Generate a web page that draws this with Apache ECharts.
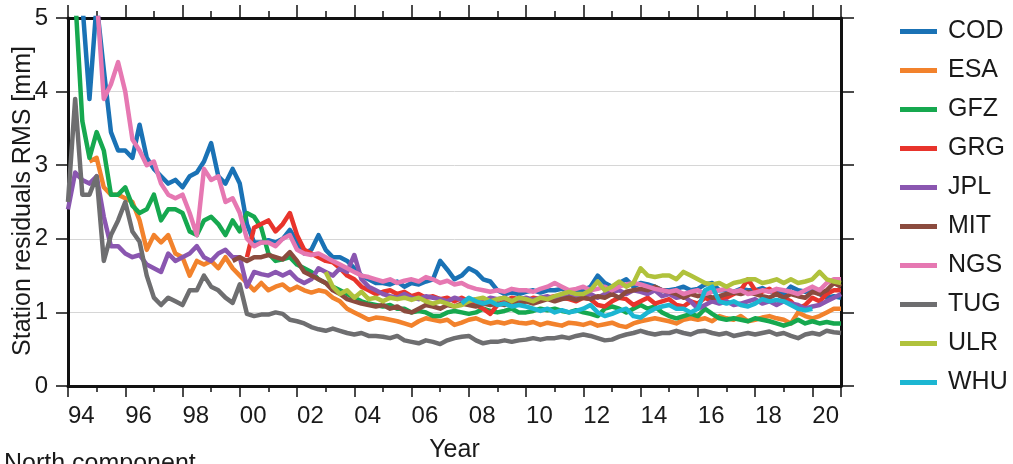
<!DOCTYPE html>
<html>
<head>
<meta charset="utf-8">
<script src="https://cdn.jsdelivr.net/npm/echarts@6/dist/echarts.min.js"></script>
<style>
html,body{margin:0;padding:0;background:#fff;}
#chart{width:1013px;height:464px;}
</style>
</head>
<body>
<div id="chart"></div>
<script>
// Quarterly samples (step 0.25 yr) starting at each series' start year
const seriesNames = ['COD','ESA','GFZ','GRG','JPL','MIT','NGS','TUG','ULR','WHU'];
const startYears = {COD:1994.0, ESA:1994.75, GFZ:1994.0, GRG:2000.25, JPL:1994.0, MIT:1999.75, NGS:1995.0, TUG:1994.0, ULR:2003.0, WHU:2007.75};
const sampleStep = 0.25;

const COD = [5.6,5.4,5.2,3.9, 5.2,4.3,3.45,3.2, 3.2,3.1,3.55,3.1, 2.95,2.85,2.75,2.8,
  2.7,2.85,2.9,3.05, 3.3,2.85,2.75,2.95, 2.75,2.2,1.95,1.95, 1.98,1.95,2.0,2.12,
  1.95,1.8,1.85,2.05, 1.85,1.75,1.75,1.7, 1.6,1.5,1.45,1.4, 1.4,1.38,1.42,1.35,
  1.4,1.38,1.42,1.45, 1.7,1.58,1.45,1.5, 1.6,1.55,1.45,1.42, 1.3,1.25,1.27,1.25,
  1.28,1.3,1.27,1.3, 1.3,1.32,1.28,1.3, 1.3,1.35,1.5,1.4, 1.35,1.4,1.45,1.35,
  1.4,1.38,1.35,1.3, 1.3,1.32,1.35,1.3, 1.32,1.38,1.4,1.3, 1.3,1.28,1.32,1.3,
  1.3,1.33,1.28,1.3, 1.25,1.35,1.3,1.28, 1.3,1.25,1.2,1.22, 1.2];
const ESA = [3.05, 3.1,2.7,2.6,2.6, 2.55,2.5,2.25,1.85, 2.05,1.95,2.05,1.8,
  1.75,1.5,1.7,1.65, 1.7,1.6,1.75,1.6, 1.5,1.4,1.3,1.4, 1.3,1.35,1.38,1.3,
  1.35,1.3,1.27,1.3, 1.28,1.2,1.15,1.05, 1.0,0.95,0.9,0.93, 0.92,0.9,0.88,0.85,
  0.82,0.88,0.92,0.9, 0.88,0.9,0.83,0.86, 0.9,0.92,0.88,0.85, 0.87,0.85,0.88,0.86,
  0.85,0.87,0.83,0.86, 0.84,0.82,0.86,0.85, 0.83,0.86,0.82,0.84, 0.86,0.82,0.8,0.85,
  0.88,0.9,0.92,0.9, 0.88,0.85,0.9,0.92, 0.9,0.92,0.88,0.95, 0.92,0.9,0.95,0.88,
  0.9,0.93,0.95,0.92, 0.9,0.85,1.0,0.95, 0.92,0.95,1.0,1.05, 1.05];
const GFZ = [5.5,5.3,3.6,3.1, 3.45,3.2,2.6,2.6, 2.7,2.45,2.35,2.4, 2.6,2.25,2.4,2.4,
  2.35,2.1,2.05,2.25, 2.3,2.2,2.05,2.25, 2.1,2.35,2.3,2.15, 1.8,1.7,1.72,1.75,
  1.65,1.6,1.55,1.45, 1.4,1.35,1.3,1.25, 1.2,1.15,1.12,1.1, 1.08,1.1,1.05,1.05,
  1.0,1.02,1.0,0.95, 0.95,1.0,1.02,1.0, 0.98,1.0,1.05,1.02, 1.0,1.02,1.05,1.0,
  1.0,1.02,1.05,1.03, 1.05,1.02,1.0,1.03, 1.0,0.98,0.95,1.05, 1.08,1.05,1.0,1.05,
  1.1,1.05,1.08,1.0, 0.95,0.92,0.95,0.98, 0.95,1.05,0.98,0.92, 0.9,0.92,0.9,0.88,
  0.92,0.9,0.88,0.85, 0.82,0.85,0.9,0.85, 0.88,0.85,0.87,0.85, 0.85];
const GRG = [1.75,2.15,2.2, 2.25,2.1,2.2,2.35, 2.05,1.85,1.8,1.75, 1.7,1.68,1.6,1.5,
  1.45,1.35,1.3,1.25, 1.28,1.3,1.25,1.28, 1.22,1.25,1.2,1.22, 1.18,1.2,1.15,1.2,
  1.15,1.1,1.05,0.98, 1.1,1.15,1.2,1.18, 1.15,1.2,1.18,1.2, 1.22,1.2,1.18,1.15,
  1.2,1.18,1.1,1.08, 1.15,1.2,1.18,1.1, 1.15,1.2,1.12,1.15, 1.18,1.1,1.08,1.15,
  1.12,1.2,1.15,1.18, 1.2,1.25,1.3,1.45, 1.3,1.28,1.32,1.25, 1.2,1.15,1.05,1.1,
  1.2,1.15,1.25,1.3, 1.3];
const JPL = [2.4,2.9,2.8,2.75, 2.85,2.3,1.9,1.9, 1.8,1.75,1.78,1.65, 1.6,1.55,1.8,1.7,
  1.75,1.8,1.9,1.75, 1.7,1.8,1.85,1.75, 1.75,1.35,1.55,1.52, 1.5,1.55,1.5,1.55,
  1.45,1.4,1.45,1.6, 1.55,1.5,1.6,1.55, 1.78,1.45,1.35,1.3, 1.25,1.22,1.2,1.25,
  1.2,1.18,1.22,1.2, 1.18,1.15,1.2,1.17, 1.15,1.18,1.15,1.2, 1.18,1.2,1.15,1.18,
  1.2,1.17,1.2,1.22, 1.18,1.2,1.22,1.2, 1.22,1.25,1.2,1.25, 1.28,1.3,1.25,1.3,
  1.28,1.25,1.3,1.22, 1.25,1.2,1.22,1.15, 1.05,1.1,1.15,1.12, 1.15,1.1,1.12,1.15,
  1.18,1.12,1.15,1.1, 1.15,1.12,1.1,1.05, 1.08,1.1,1.15,1.2, 1.25];
const MIT = [1.7, 1.75,1.7,1.75,1.75, 1.78,1.75,1.72,1.82, 1.7,1.55,1.5,1.45,
  1.4,1.3,1.25,1.18, 1.15,1.12,1.1,1.08, 1.1,1.05,1.08,1.02, 1.0,1.05,1.1,1.08,
  1.05,1.1,1.08,1.12, 1.1,1.08,1.12,1.1, 1.12,1.1,1.15,1.12, 1.15,1.12,1.15,1.18,
  1.15,1.18,1.2,1.17, 1.2,1.18,1.22,1.2, 1.25,1.2,1.28,1.3, 1.32,1.3,1.35,1.3,
  1.28,1.25,1.2,1.25, 1.22,1.25,1.2,1.22, 1.25,1.27,1.25,1.28, 1.25,1.22,1.2,1.25,
  1.2,1.25,1.22,1.2, 1.28,1.25,1.3,1.4, 1.35];
const NGS = [5.3,3.9,4.1,4.4, 4.0,3.35,3.2,3.0, 3.05,2.75,2.6,2.55, 2.6,2.35,2.05,2.95,
  2.8,2.85,2.5,2.55, 2.35,2.0,1.9,1.95, 1.95,1.9,2.0,2.05, 1.85,1.8,1.78,1.8,
  1.75,1.7,1.65,1.6, 1.55,1.5,1.48,1.45, 1.42,1.45,1.4,1.43, 1.45,1.42,1.48,1.45,
  1.4,1.43,1.38,1.4, 1.35,1.32,1.3,1.28, 1.3,1.28,1.32,1.3, 1.3,1.28,1.32,1.35,
  1.4,1.35,1.3,1.32, 1.35,1.3,1.32,1.35, 1.3,1.35,1.38,1.4, 1.38,1.35,1.32,1.3,
  1.28,1.3,1.25,1.28, 1.3,1.25,1.28,1.3, 1.32,1.28,1.3,1.25, 1.27,1.3,1.28,1.32,
  1.3,1.28,1.25,1.3, 1.35,1.3,1.4,1.45, 1.45];
const TUG = [2.5,3.9,2.6,2.6, 2.85,1.7,2.05,2.25, 2.5,2.1,1.96,1.5, 1.2,1.1,1.2,1.15,
  1.1,1.3,1.3,1.5, 1.35,1.3,1.2,1.13, 1.38,0.98,0.95,0.97, 0.97,1.0,0.98,0.9,
  0.88,0.85,0.8,0.77, 0.75,0.78,0.75,0.72, 0.7,0.72,0.68,0.68, 0.67,0.65,0.68,0.62,
  0.6,0.58,0.62,0.6, 0.57,0.62,0.65,0.67, 0.68,0.62,0.58,0.6, 0.6,0.62,0.6,0.62,
  0.63,0.65,0.63,0.65, 0.65,0.67,0.65,0.68, 0.7,0.68,0.65,0.62, 0.63,0.67,0.7,0.72,
  0.75,0.72,0.7,0.72, 0.72,0.75,0.72,0.7, 0.74,0.75,0.72,0.7, 0.72,0.68,0.7,0.72,
  0.7,0.72,0.74,0.7, 0.72,0.68,0.65,0.7, 0.72,0.7,0.75,0.73, 0.72];
const ULR = [1.55,1.35,1.25,1.3, 1.2,1.28,1.18,1.2, 1.15,1.2,1.18,1.2, 1.17,1.2,1.15,1.12,
  1.15,1.12,1.08,1.1, 1.15,1.18,1.2,1.15, 1.18,1.2,1.15,1.2, 1.18,1.15,1.2,1.18,
  1.22,1.25,1.28,1.25, 1.25,1.3,1.42,1.3, 1.35,1.42,1.35,1.4, 1.6,1.5,1.48,1.5,
  1.5,1.45,1.55,1.5, 1.45,1.4,1.38,1.4, 1.35,1.4,1.42,1.45, 1.45,1.4,1.42,1.45,
  1.4,1.45,1.4,1.42, 1.45,1.55,1.45,1.42, 1.4];
const WHU = [1.12, 1.2,1.15,1.12,1.15, 1.1,1.12,1.08,1.1, 1.08,1.05,1.02,1.05,
  1.0,1.03,1.0,1.02, 1.05,1.1,1.0,0.95, 0.98,1.02,1.05,0.95, 0.93,1.0,1.05,1.08,
  1.1,1.05,1.05,1.0, 1.05,1.3,1.35,1.15, 1.12,1.15,1.1,1.08, 1.12,1.18,1.15,1.17,
  1.15,1.1,1.05,1.03, 1.05];

const seriesValues = {COD, ESA, GFZ, GRG, JPL, MIT, NGS, TUG, ULR, WHU};
const colors = {COD:'#1a72b5', ESA:'#f2822c', GFZ:'#16a84f', GRG:'#e8342c', JPL:'#8a56b0',
  MIT:'#8b4b3e', NGS:'#e678b2', TUG:'#6e6e70', ULR:'#b0c23c', WHU:'#1cb6d2'};

const xTickStart = 1994, xTickEnd = 2021, xInterval = 2;
const yTickMin = 0, yTickMax = 5, yInterval = 1;
const yAxisTitle = 'Station residuals RMS [mm]';

const FONT = '"Liberation Sans", Arial, Helvetica, sans-serif';
const chart = echarts.init(document.getElementById('chart'), null, {renderer: 'canvas'});

const series = seriesNames.map(n => ({
  name: n,
  type: 'line',
  showSymbol: false,
  symbol: 'none',
  clip: true,
  color: colors[n],
  lineStyle: {width: 4.5, color: colors[n], join: 'round'},
  data: seriesValues[n].map((v, i) => [startYears[n] + i * sampleStep, v])
}));

const xLabel = v => (v % 2 === 0 && v < xTickEnd) ? String(v % 100).padStart(2, '0') : '';
const frameLine = {show: true, onZero: false, lineStyle: {color: '#111', width: 3}};

chart.setOption({
  animation: false,
  backgroundColor: '#fff',
  textStyle: {fontFamily: FONT},
  grid: {left: 68, right: 172, top: 18, bottom: 78, containLabel: false, outerBoundsMode: 'none'},
  legend: {
    orient: 'vertical', left: 895, top: 14, itemGap: 14,
    icon: 'rect', itemWidth: 37, itemHeight: 5,
    textStyle: {fontSize: 25, color: '#1a1a1a', fontFamily: FONT, padding: [0, 0, 0, 6]},
    data: seriesNames
  },
  xAxis: [{
    type: 'value', position: 'bottom', min: xTickStart, max: xTickEnd, interval: xInterval,
    axisLine: frameLine,
    axisTick: {show: true, inside: false, length: 11, lineStyle: {color: '#111', width: 1.5}},
    minorTick: {show: true, splitNumber: 2, length: 6, lineStyle: {color: '#111', width: 1.5}},
    axisLabel: {fontSize: 24, color: '#1a1a1a', align: 'left', margin: 18, formatter: xLabel, fontFamily: FONT},
    splitLine: {show: false},
    name: 'Year', nameLocation: 'middle', nameGap: 52,
    nameTextStyle: {fontSize: 25, color: '#1a1a1a', fontFamily: FONT}
  }, {
    type: 'value', position: 'top', min: xTickStart, max: xTickEnd, interval: xInterval,
    axisLine: frameLine,
    axisTick: {show: true, inside: false, length: 13, lineStyle: {color: '#111', width: 1.5}},
    minorTick: {show: true, splitNumber: 2, length: 7, lineStyle: {color: '#111', width: 1.5}},
    axisLabel: {show: false},
    splitLine: {show: false}
  }],
  yAxis: [{
    type: 'value', position: 'left', min: yTickMin, max: yTickMax, interval: yInterval,
    axisLine: frameLine,
    axisTick: {show: true, inside: false, length: 12, lineStyle: {color: '#111', width: 1.5}},
    axisLabel: {fontSize: 24, color: '#1a1a1a', margin: 20, fontFamily: FONT},
    splitLine: {show: true, lineStyle: {color: '#d6d6d6', width: 1}}
  }, {
    type: 'value', position: 'right', min: yTickMin, max: yTickMax, interval: yInterval,
    axisLine: frameLine,
    axisTick: {show: true, inside: false, length: 13, lineStyle: {color: '#111', width: 1.5}},
    axisLabel: {show: false},
    splitLine: {show: false}
  }],
  graphic: [{
    type: 'text', x: 23, y: 201, rotation: Math.PI / 2,
    style: {text: yAxisTitle, fontSize: 25, fill: '#1a1a1a', fontFamily: FONT, align: 'center', verticalAlign: 'middle'}
  }, {
    type: 'text', left: 4, top: 452,
    style: {text: 'North component', fontSize: 25, fill: '#1a1a1a', fontFamily: FONT}
  }],
  series
});
</script>
</body>
</html>
